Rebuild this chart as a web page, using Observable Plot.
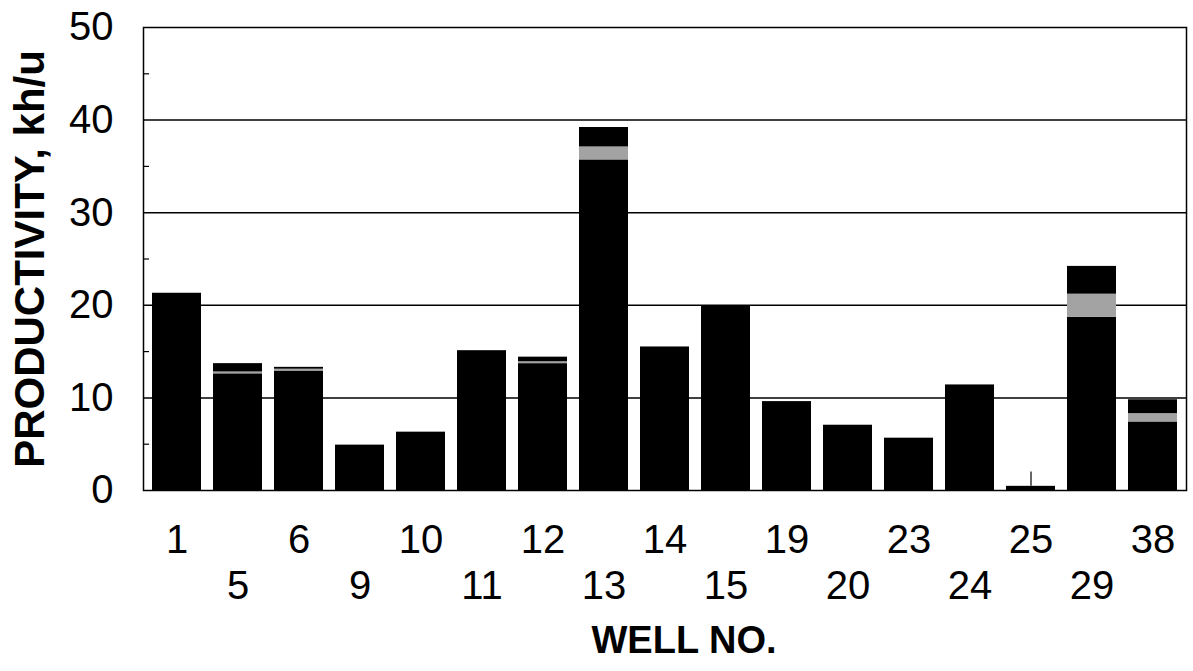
<!DOCTYPE html>
<html>
<head>
<meta charset="utf-8">
<script src="https://cdn.jsdelivr.net/npm/d3@7"></script>
<script src="https://cdn.jsdelivr.net/npm/@observablehq/plot@0.6"></script>
<style>
  html, body { margin: 0; padding: 0; background: #fff; }
  #chart svg { display: block; }
</style>
</head>
<body>
<div id="chart"></div>
<script>
// Well numbers (categories)
const wells = ["1","5","6","9","10","11","12","13","14","15","19","20","23","24","25","29","38"];
// Bottom black segment of each bar
const lowerBlack = [21.3, 12.6, 12.9, 4.9, 6.3, 15.1, 13.7, 35.7, 15.5, 19.9, 9.6, 7.05, 5.65, 11.4, 0.45, 18.7, 7.4];
// Grey (dotted) middle segment
const greyBand   = [0, 0.2, 0.2, 0, 0, 0, 0.2, 1.4, 0, 0, 0, 0, 0, 0, 0, 2.5, 0.9];
// Top black segment
const upperBlack = [0, 0.9, 0.2, 0, 0, 0, 0.5, 2.1, 0, 0, 0, 0, 0, 0, 0, 3.0, 1.5];
// Whisker on well 25
const whiskerWell = ["25"];
const whiskerLow = [0.45];
const whiskerHigh = [2.0];
// Axis ticks / labels
const yTicks = [0, 10, 20, 30, 40, 50];
const yMinorTicks = [5, 15, 25, 35, 45];
const gridValues = [10, 20, 30, 40];
const yTitle = "PRODUCTIVITY, kh/u";
const xTitle = "WELL NO.";

const BLACK = "#000000";
const GREY = "#a3a3a3";

const rows = [];
wells.forEach((w, i) => {
  rows.push({well: w, part: "lower", value: lowerBlack[i], color: BLACK});
  rows.push({well: w, part: "grey", value: greyBand[i], color: GREY});
  rows.push({well: w, part: "upper", value: upperBlack[i], color: BLACK});
});
const whiskers = whiskerWell.map((w, i) => ({well: w, y1: whiskerLow[i], y2: whiskerHigh[i]}));

const rowA = wells.filter((d, i) => i % 2 === 0);
const rowB = wells.filter((d, i) => i % 2 === 1);

const chart = Plot.plot({
  width: 1193,
  height: 671,
  marginLeft: 143,
  marginRight: 7,
  marginTop: 27,
  marginBottom: 181,
  style: {fontFamily: "'Liberation Sans', Arial, Helvetica, sans-serif", color: "#000", background: "#fff", overflow: "visible"},
  x: {domain: wells, paddingInner: 0.2, paddingOuter: 0.1, axis: null},
  y: {domain: [0, 50], axis: null},
  color: {type: "identity"},
  marks: [
    Plot.ruleY(gridValues, {stroke: BLACK, strokeWidth: 1.5}),
    Plot.barY(rows, {x: "well", y: "value", fill: "color", order: null}),
    Plot.ruleX(whiskers, {x: "well", y1: "y1", y2: "y2", stroke: BLACK, strokeWidth: 1.2}),
    Plot.frame({stroke: BLACK, strokeWidth: 1.5}),
    Plot.axisY(yMinorTicks, {anchor: "left", tickSize: -6, tickFormat: () => "", strokeWidth: 1.2, label: null}),
    Plot.axisY(yTicks, {anchor: "left", tickSize: 0, tickPadding: 30, fontSize: 40, label: null}),
    Plot.axisX(rowA, {anchor: "bottom", tickSize: 0, tickPadding: 34, fontSize: 40, label: null}),
    Plot.axisX(rowB, {anchor: "bottom", tickSize: 0, tickPadding: 80, fontSize: 40, label: null}),
    Plot.text([yTitle], {frameAnchor: "left", dx: -113, rotate: -90, textAnchor: "middle", lineAnchor: "middle", fontSize: 42, fontWeight: "bold", fill: BLACK}),
    Plot.text([xTitle], {frameAnchor: "bottom", dx: 19, dy: 150, lineAnchor: "middle", fontSize: 38, fontWeight: "bold", fill: BLACK})
  ]
});
document.getElementById("chart").append(chart);
</script>
</body>
</html>
